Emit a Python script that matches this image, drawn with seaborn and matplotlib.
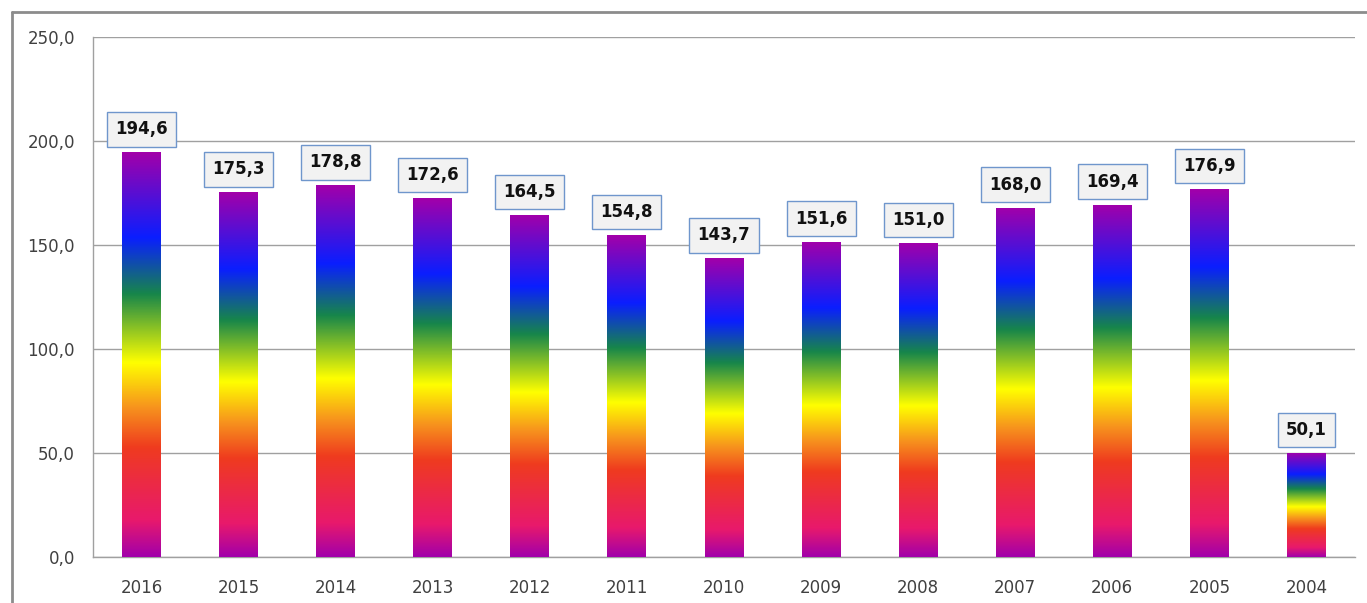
import numpy as np
import pandas as pd
import matplotlib
matplotlib.use('Agg')
import matplotlib.pyplot as plt
import seaborn as sns
from matplotlib.colors import LinearSegmentedColormap
from matplotlib.lines import Line2D

# Data
years = ['2016', '2015', '2014', '2013', '2012', '2011', '2010',
         '2009', '2008', '2007', '2006', '2005', '2004']
values = [194.6, 175.3, 178.8, 172.6, 164.5, 154.8, 143.7,
          151.6, 151.0, 168.0, 169.4, 176.9, 50.1]
y_ticks = [0, 50, 100, 150, 200, 250]

df = pd.DataFrame({'year': years, 'value': values})

# Rainbow gradient used on every bar (bottom -> top)
rainbow = LinearSegmentedColormap.from_list('rainbow_bar', [
    (0.00, '#A200AA'),
    (0.09, '#E8196C'),
    (0.27, '#EF3B1F'),
    (0.37, '#F7941D'),
    (0.48, '#FFFF00'),
    (0.65, '#17864A'),
    (0.79, '#0A1EFF'),
    (1.00, '#A200AA'),
])

sns.set_style('white')
plt.rcParams['font.family'] = ['DejaVu Sans']

fig = plt.figure(figsize=(13.67, 6.03), dpi=100)
ax = fig.add_axes([0.068, 0.0763, 0.9232, 0.8623])

sns.barplot(data=df, x='year', y='value', ax=ax, width=0.4,
            color='white', edgecolor='none', saturation=1)

grad = np.linspace(0, 1, 512).reshape(-1, 1)
for patch in ax.patches:
    x0 = patch.get_x()
    w = patch.get_width()
    h = patch.get_height()
    patch.set_facecolor('none')
    im = ax.imshow(grad, cmap=rainbow, origin='lower', aspect='auto',
                   extent=(x0, x0 + w, 0, h), zorder=3,
                   interpolation='bilinear')
    im.set_clip_path(patch)

for i, v in enumerate(values):
    label = f'{v:.1f}'.replace('.', ',')
    ax.annotate(label, (i, v), xytext=(0, 16.5), textcoords='offset points',
                ha='center', va='center', fontsize=12, fontweight='bold',
                color='#111111', zorder=5,
                bbox=dict(boxstyle='square,pad=0.5', facecolor='#F2F2F2',
                          edgecolor='#6F96CC', linewidth=1))

ax.set_xlim(-0.5, len(years) - 0.5)
ax.set_ylim(0, 250)
ax.set_yticks(y_ticks)
ax.set_yticklabels([f'{t:.1f}'.replace('.', ',') for t in y_ticks])
ax.set_xlabel('')
ax.set_ylabel('')

ax.yaxis.grid(True, color='#A0A0A0', linewidth=1)
ax.set_axisbelow(True)
for side in ['top', 'right']:
    ax.spines[side].set_visible(False)
for side in ['left', 'bottom']:
    ax.spines[side].set_color('#A0A0A0')
    ax.spines[side].set_linewidth(1)

ax.set_xticks(np.arange(-0.5, len(years)), minor=True)
ax.tick_params(axis='x', which='major', length=0, pad=16, labelsize=12,
               labelcolor='#404040')
ax.tick_params(axis='x', which='minor', length=7, color='#A0A0A0', width=1)
ax.tick_params(axis='y', length=7, color='#A0A0A0', width=1, pad=6,
               labelsize=12, labelcolor='#404040')

# Outer chart frame (left and top edges visible in the crop)
fig.add_artist(Line2D([0.0085, 0.0085], [0.0, 0.98], transform=fig.transFigure,
                      color='#8C8C8C', linewidth=2))
fig.add_artist(Line2D([0.0085, 1.0], [0.98, 0.98], transform=fig.transFigure,
                      color='#8C8C8C', linewidth=2))

fig.savefig('out.png', dpi=100)
